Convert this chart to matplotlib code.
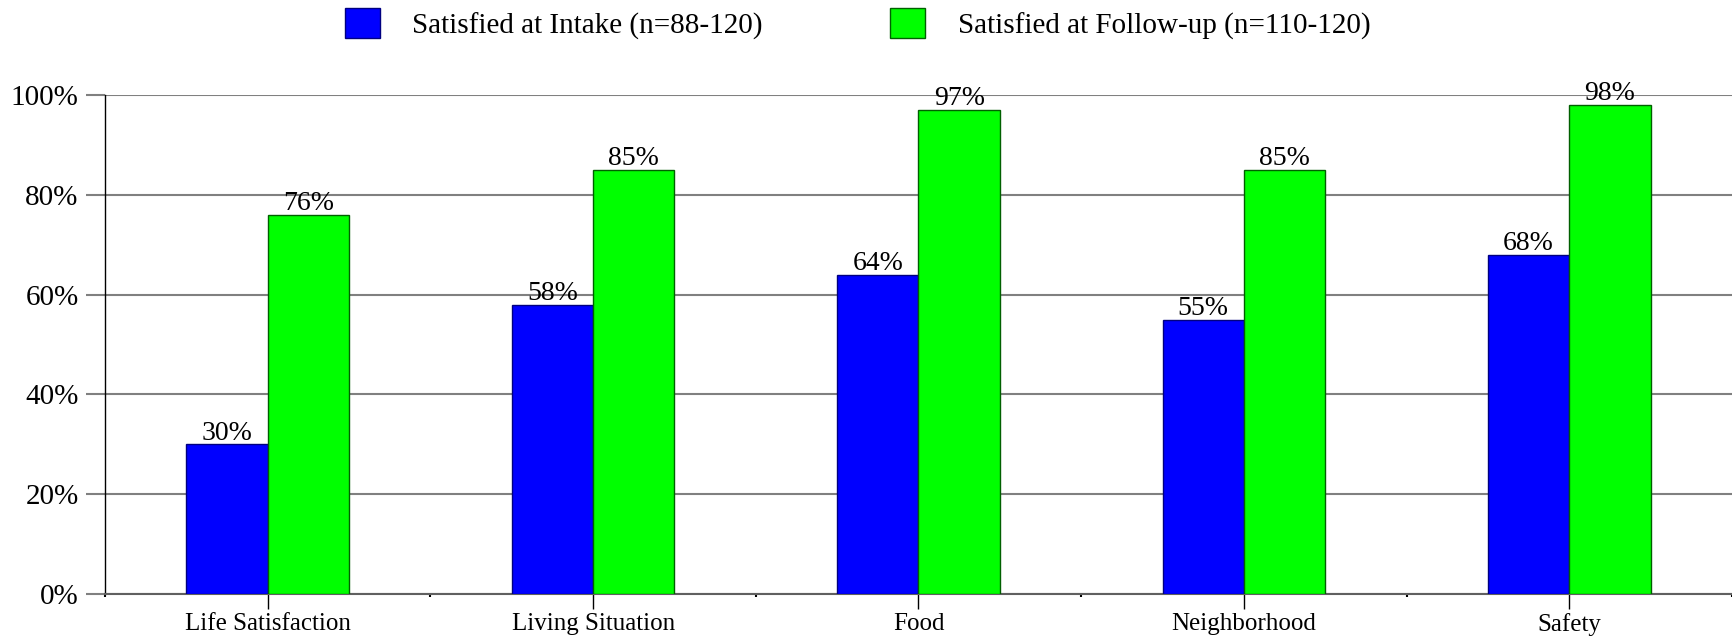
import matplotlib.pyplot as plt
import numpy as np
from matplotlib.ticker import FixedLocator

plt.rcParams['font.family'] = ['Liberation Serif', 'DejaVu Serif']

categories = ["Life Satisfaction", "Living Situation", "Food", "Neighborhood", "Safety"]
intake = [30, 58, 64, 55, 68]
follow_up = [76, 85, 97, 85, 98]
intake_label = "Satisfied at Intake (n=88-120)"
follow_label = "Satisfied at Follow-up (n=110-120)"

fig = plt.figure(figsize=(17.32, 6.37), dpi=100)
ax = fig.add_axes([0.0606, 0.0675, 0.9394, 0.7835])

x = np.arange(len(categories))
w = 0.25
b1 = ax.bar(x - w / 2, intake, w, color="#0000ff", edgecolor="#000080", linewidth=1, label=intake_label, zorder=3)
b2 = ax.bar(x + w / 2, follow_up, w, color="#00ff00", edgecolor="#006000", linewidth=1, label=follow_label, zorder=3)

for bars in (b1, b2):
    for bar in bars:
        h = bar.get_height()
        ax.text(bar.get_x() + bar.get_width() / 2, h - 0.3, f"{h:.0f}%", ha="center", va="bottom",
                fontsize=20, zorder=4)

ax.set_xlim(-0.5, len(categories) - 0.5)
ax.set_ylim(0, 100)
ax.set_yticks(np.arange(0, 101, 20))
ax.set_yticklabels([f"{v}%" for v in range(0, 101, 20)], fontsize=21)
ax.set_xticks(x)
ax.set_xticklabels(categories, fontsize=18)
ax.xaxis.set_minor_locator(FixedLocator(np.arange(-0.5, len(categories), 1.0)))

ax.grid(axis="y", color="#808080", linewidth=1.5, zorder=0)
ax.tick_params(axis="y", length=14, width=1.5, color="#808080", pad=5)
ax.tick_params(axis="x", which="major", length=11, width=1, color="black", pad=3)
ax.tick_params(axis="x", which="minor", length=2, width=1.5, color="black")

for s in ("top", "right"):
    ax.spines[s].set_visible(False)
ax.spines["left"].set_linewidth(1)
ax.spines["bottom"].set_color("#606060")
ax.spines["bottom"].set_linewidth(1.5)

fig.legend(handles=[b1, b2], loc="upper center", bbox_to_anchor=(0.495, 1.005), ncol=2,
           frameon=False, fontsize=21, handlelength=1.2, handleheight=1.2,
           handletextpad=1.1, columnspacing=4.4, borderaxespad=0)

fig.savefig("out.png", dpi=100)
